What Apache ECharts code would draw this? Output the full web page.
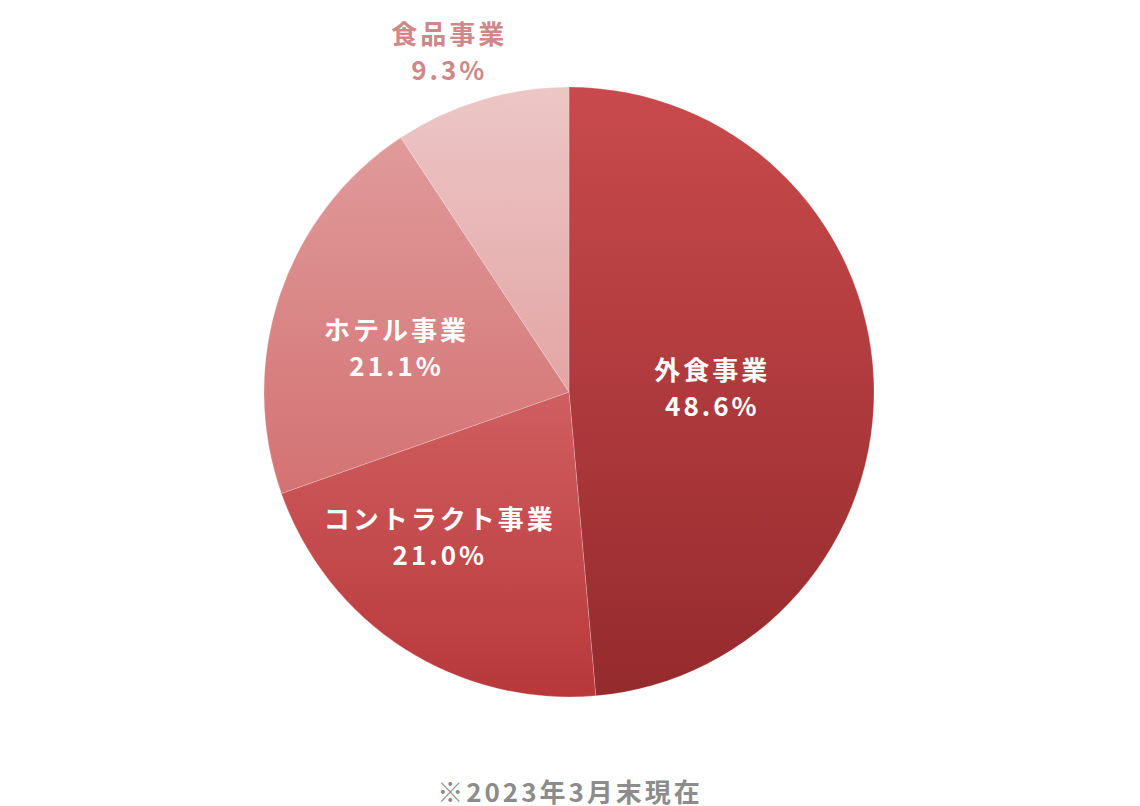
<!DOCTYPE html>
<html>
<head>
<meta charset="utf-8">
<script src="https://cdn.jsdelivr.net/npm/echarts@6/dist/echarts.min.js"></script>
<style>
	*{
		margin:0px;
		padding:0px;
	}
	body{
		background: #fff;
	}
	#main{
		width: 1140px;
		height: 806px;
	}
	#main svg text{
		letter-spacing: 3px;
	}
</style>
</head>
<body>
<div id="main"></div>
<script type="text/javascript">
// 事業別構成比
var categories = ['外食事業', 'コントラクト事業', 'ホテル事業', '食品事業'];
var shares = [48.6, 21.0, 21.1, 9.3];
var note = '※2023年3月末現在';

// 各スライスの上下グラデーション
var topColors = ['#c94a4c', '#d05e60', '#e09a9a', '#edc6c6'];
var bottomColors = ['#952a2d', '#b8383a', '#d47273', '#e3a5a5'];
var labelColors = ['#fff', '#fff', '#fff', '#d08787'];
var labelOffsets = [[-12, 1], [-45, 13], [-25, 4], [-75, -193]];

var myChart = echarts.init(document.getElementById('main'), null, { renderer: 'svg' });

var pieData = categories.map(function (name, i) {
    return {
        name: name,
        value: shares[i],
        itemStyle: {
            color: new echarts.graphic.LinearGradient(0, 0, 0, 1, [
                { offset: 0, color: topColors[i] },
                { offset: 1, color: bottomColors[i] }
            ])
        },
        label: {
            color: labelColors[i],
            offset: labelOffsets[i]
        }
    };
});

myChart.setOption({
    animation: false,
    title: {
        text: note,
        left: 'center',
        top: 776,
        padding: 0,
        textStyle: {
            color: '#8c8c8c',
            fontSize: 26,
            lineHeight: 28,
            fontWeight: 'bold',
            fontFamily: 'Noto Sans CJK JP'
        }
    },
    series: [
        {
            type: 'pie',
            center: [569, 392],
            radius: [0, 305],
            startAngle: 90,
            clockwise: true,
            avoidLabelOverlap: false,
            itemStyle: {
                borderColor: 'rgba(255,255,255,0.35)',
                borderWidth: 0.6
            },
            label: {
                show: true,
                position: 'inside',
                formatter: function (p) {
                    return p.name + '\n' + p.value.toFixed(1) + '%';
                },
                fontSize: 26,
                fontWeight: 'bold',
                lineHeight: 36,
                fontFamily: 'Noto Sans CJK JP'
            },
            labelLine: { show: false },
            emphasis: { disabled: true },
            data: pieData
        }
    ]
});
</script>
</body>
</html>
